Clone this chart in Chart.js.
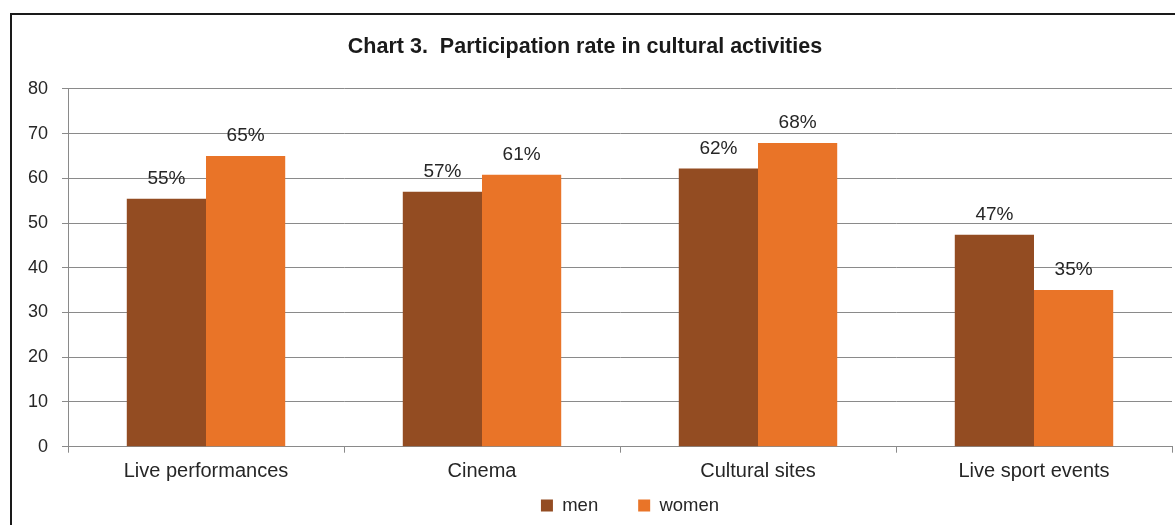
<!DOCTYPE html>
<html>
<head>
<meta charset="utf-8">
<script src="https://cdn.jsdelivr.net/npm/chart.js@4/dist/chart.umd.min.js"></script>
<style>
  html, body { margin: 0; padding: 0; background: #fff; overflow: hidden; width: 1175px; height: 525px; }
  #frame { position: absolute; left: 10px; top: 13px; width: 1176px; height: 560px; border: 2px solid #1a1a1a; }
  #wrap { position: absolute; left: 0; top: 0; width: 1175px; height: 540px; }
</style>
</head>
<body>
<div id="frame"><div id="wrap"><canvas id="c"></canvas></div></div>
<script>
const categories = ['Live performances', 'Cinema', 'Cultural sites', 'Live sport events'];
const men = [55.4, 57.0, 62.2, 47.4];
const women = [65.0, 60.8, 67.9, 35.0];
const yTicks = [0, 10, 20, 30, 40, 50, 60, 70, 80];
const seriesNames = ['men', 'women'];
const titleText = 'Chart 3.  Participation rate in cultural activities';

const FONT = "'Liberation Sans', Arial, sans-serif";
const TEXT = '#262626';
const GRID = '#8a8a8a';

const valueLabels = {
  id: 'valueLabels',
  afterDatasetsDraw(chart) {
    const ctx = chart.ctx;
    ctx.save();
    ctx.font = '19px ' + FONT;
    ctx.fillStyle = TEXT;
    ctx.textAlign = 'center';
    ctx.textBaseline = 'middle';
    chart.data.datasets.forEach((ds, i) => {
      chart.getDatasetMeta(i).data.forEach((bar, j) => {
        ctx.fillText(Math.round(ds.data[j]) + '%', bar.x, bar.y - 20);
      });
    });
    ctx.restore();
  }
};

// nudge title and legend to match the original layout
const boxNudge = {
  id: 'boxNudge',
  afterLayout(chart) {
    if (chart.titleBlock) { chart.titleBlock.left -= 7; chart.titleBlock.right -= 7; }
    if (chart.legend) {
      chart.legend.left += 10; chart.legend.right += 10;
      chart.legend.top -= 28.5; chart.legend.bottom -= 28.5;
    }
  }
};

new Chart(document.getElementById('c'), {
  type: 'bar',
  data: {
    labels: categories,
    datasets: [
      { label: seriesNames[0], data: men, backgroundColor: '#934C22', borderWidth: 0 },
      { label: seriesNames[1], data: women, backgroundColor: '#E97428', borderWidth: 0 }
    ]
  },
  options: {
    responsive: true,
    maintainAspectRatio: false,
    animation: false,
    events: [],
    layout: { padding: { left: 0, right: 15, top: 0, bottom: 1.8 } },
    datasets: { bar: { categoryPercentage: 0.574, barPercentage: 1.0 } },
    plugins: {
      title: {
        display: true,
        text: titleText,
        color: '#1a1a1a',
        font: { family: FONT, size: 21.5, weight: 'bold' },
        padding: { top: 19, bottom: 29 }
      },
      legend: {
        position: 'bottom',
        fullSize: false,
        labels: {
          color: TEXT,
          font: { family: FONT, size: 18.5 },
          boxWidth: 12,
          boxHeight: 12,
          padding: 40
        }
      },
      tooltip: { enabled: false }
    },
    scales: {
      x: {
        grid: { offset: true, drawOnChartArea: false, drawTicks: true, tickLength: 6, color: GRID },
        border: { color: GRID, width: 1 },
        ticks: { color: TEXT, font: { family: FONT, size: 20 }, padding: 7, maxRotation: 0, autoSkip: false },
        afterFit(scale) { scale.height = 38; }
      },
      y: {
        min: 0,
        max: 80,
        afterBuildTicks(scale) { scale.ticks = yTicks.map(v => ({ value: v })); },
        grid: { color: GRID, tickLength: 6 },
        border: { color: GRID, width: 1 },
        ticks: { color: TEXT, font: { family: FONT, size: 18 }, padding: 14 },
        afterFit(scale) { scale.width = 56; }
      }
    }
  },
  plugins: [valueLabels, boxNudge]
});
</script>
</body>
</html>
